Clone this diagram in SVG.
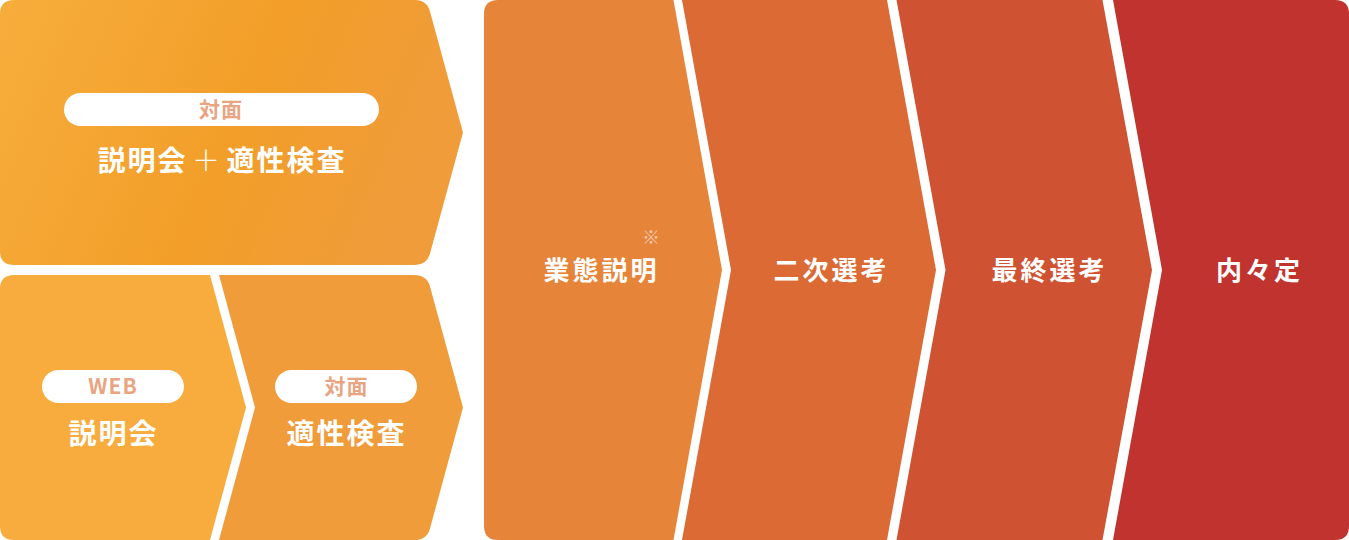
<svg xmlns="http://www.w3.org/2000/svg" width="1349" height="540" viewBox="0 0 1349 540">
  <defs>
    <linearGradient id="topGrad" x1="0" y1="0" x2="1" y2="0.25">
      <stop offset="0" stop-color="#F7AD3C"/>
      <stop offset="0.6" stop-color="#F29E29"/>
      <stop offset="1" stop-color="#F09C3A"/>
    </linearGradient>
  </defs>
  <style>
    text { font-family: "Noto Sans CJK JP", "Noto Sans", sans-serif; text-anchor: middle; }
    .main { fill: #FFFFFF; font-weight: 700; font-size: 28px; letter-spacing: 2px; }
    .step { fill: #FFFFFF; font-weight: 700; font-size: 26px; letter-spacing: 3px; }
    .pill { fill: #FFFFFF; }
    .pilltext { fill: #E9A481; font-weight: 700; font-size: 21px; letter-spacing: 1px; }
    .note { fill: #F5CDB0; font-weight: 700; font-size: 18px; }
  </style>
  <rect width="1349" height="540" fill="#FFFFFF"/>

  <g id="node-top-briefing-test">
    <path d="M14,0 H415 Q427,0 430,11.6 L463,132.5 L430,253.4 Q427,265 415,265 H14 Q0,265 0,251 V14 Q0,0 14,0 Z" fill="url(#topGrad)"/>
    <rect class="pill" x="64" y="93" width="315" height="33" rx="16.5"/>
    <text class="pilltext" x="221" y="117">対面</text>
    <text class="main" y="170.6"><tspan x="142.5">説明会</tspan><tspan x="207" font-weight="300">＋</tspan><tspan x="286.5">適性検査</tspan></text>
  </g>

  <g id="node-web-briefing">
    <path d="M14,275 H210 L246,407.5 L210,540 H14 Q0,540 0,526 V289 Q0,275 14,275 Z" fill="#F8AC3E"/>
    <rect class="pill" x="42" y="370" width="142" height="33" rx="16.5"/>
    <text class="pilltext" x="113" y="394">WEB</text>
    <text class="main" x="113.5" y="443.6">説明会</text>
  </g>

  <g id="node-aptitude-test">
    <path d="M219,275 H414 Q427,275 430,286.6 L463,407.5 L430,528.4 Q427,540 414,540 H219 L255,407.5 Z" fill="#F09C3B"/>
    <rect class="pill" x="275" y="370" width="142" height="33" rx="16.5"/>
    <text class="pilltext" x="346.5" y="394.3">対面</text>
    <text class="main" x="346.5" y="443.6">適性検査</text>
  </g>

  <g id="node-industry-briefing">
    <path d="M498,0 H673.5 L722,270 L673.5,540 H498 Q484,540 484,526 V14 Q484,0 498,0 Z" fill="#E6843A"/>
    <text class="step" x="601.5" y="280">業態説明</text>
    <text class="note" x="651" y="244">※</text>
  </g>

  <g id="node-second-interview">
    <path d="M682,0 H887 L936,270 L887,540 H682 L731,270 Z" fill="#DB6A35"/>
    <text class="step" x="831.5" y="280">二次選考</text>
  </g>

  <g id="node-final-interview">
    <path d="M896.5,0 H1102.5 L1152,270 L1102.5,540 H896.5 L945.5,270 Z" fill="#CF5232"/>
    <text class="step" x="1049.5" y="280">最終選考</text>
  </g>

  <g id="node-informal-offer">
    <path d="M1113,0 H1335 Q1349,0 1349,14 V526 Q1349,540 1335,540 H1113 L1162,270 Z" fill="#C1332E"/>
    <text class="step" x="1259.5" y="280">内々定</text>
  </g>

  <g id="connectors"/>
</svg>
